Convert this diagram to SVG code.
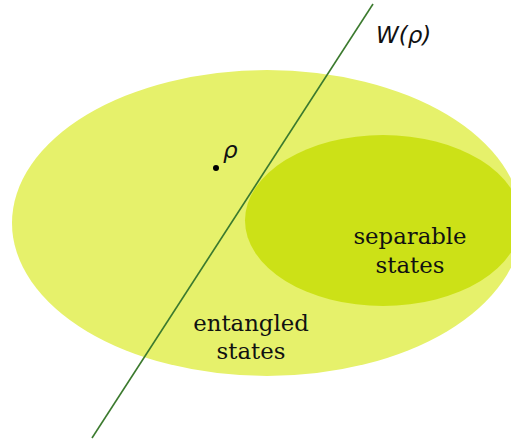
<svg xmlns="http://www.w3.org/2000/svg" width="511" height="440" viewBox="0 0 511 440">
<style>
.lbl{font-family:"DejaVu Serif",serif;font-size:22.8px;fill:#111;text-anchor:middle}
.math{font-family:"DejaVu Sans",sans-serif;font-style:italic;font-size:23px;fill:#111}
</style>
<rect width="511" height="440" fill="#fff"/>
<g id="entangled">
<ellipse cx="267" cy="223" rx="255" ry="153" fill="#e6f16b"/>
<text class="lbl" x="251" y="331">entangled</text>
<text class="lbl" x="251" y="359">states</text>
</g>
<g id="separable">
<ellipse cx="383" cy="220.5" rx="138" ry="85.5" fill="#cce117"/>
<text class="lbl" x="410" y="244">separable</text>
<text class="lbl" x="410" y="273">states</text>
</g>
<g id="rho">
<circle cx="216" cy="168" r="3" fill="#000"/>
<text class="math" x="223" y="158">ρ</text>
</g>
<g id="connectors">
<line x1="373" y1="4" x2="92" y2="438" stroke="#3b7a2e" stroke-width="1.6"/>
</g>
<g id="witness">
<text class="math" x="376" y="43">W(ρ)</text>
</g>
</svg>
